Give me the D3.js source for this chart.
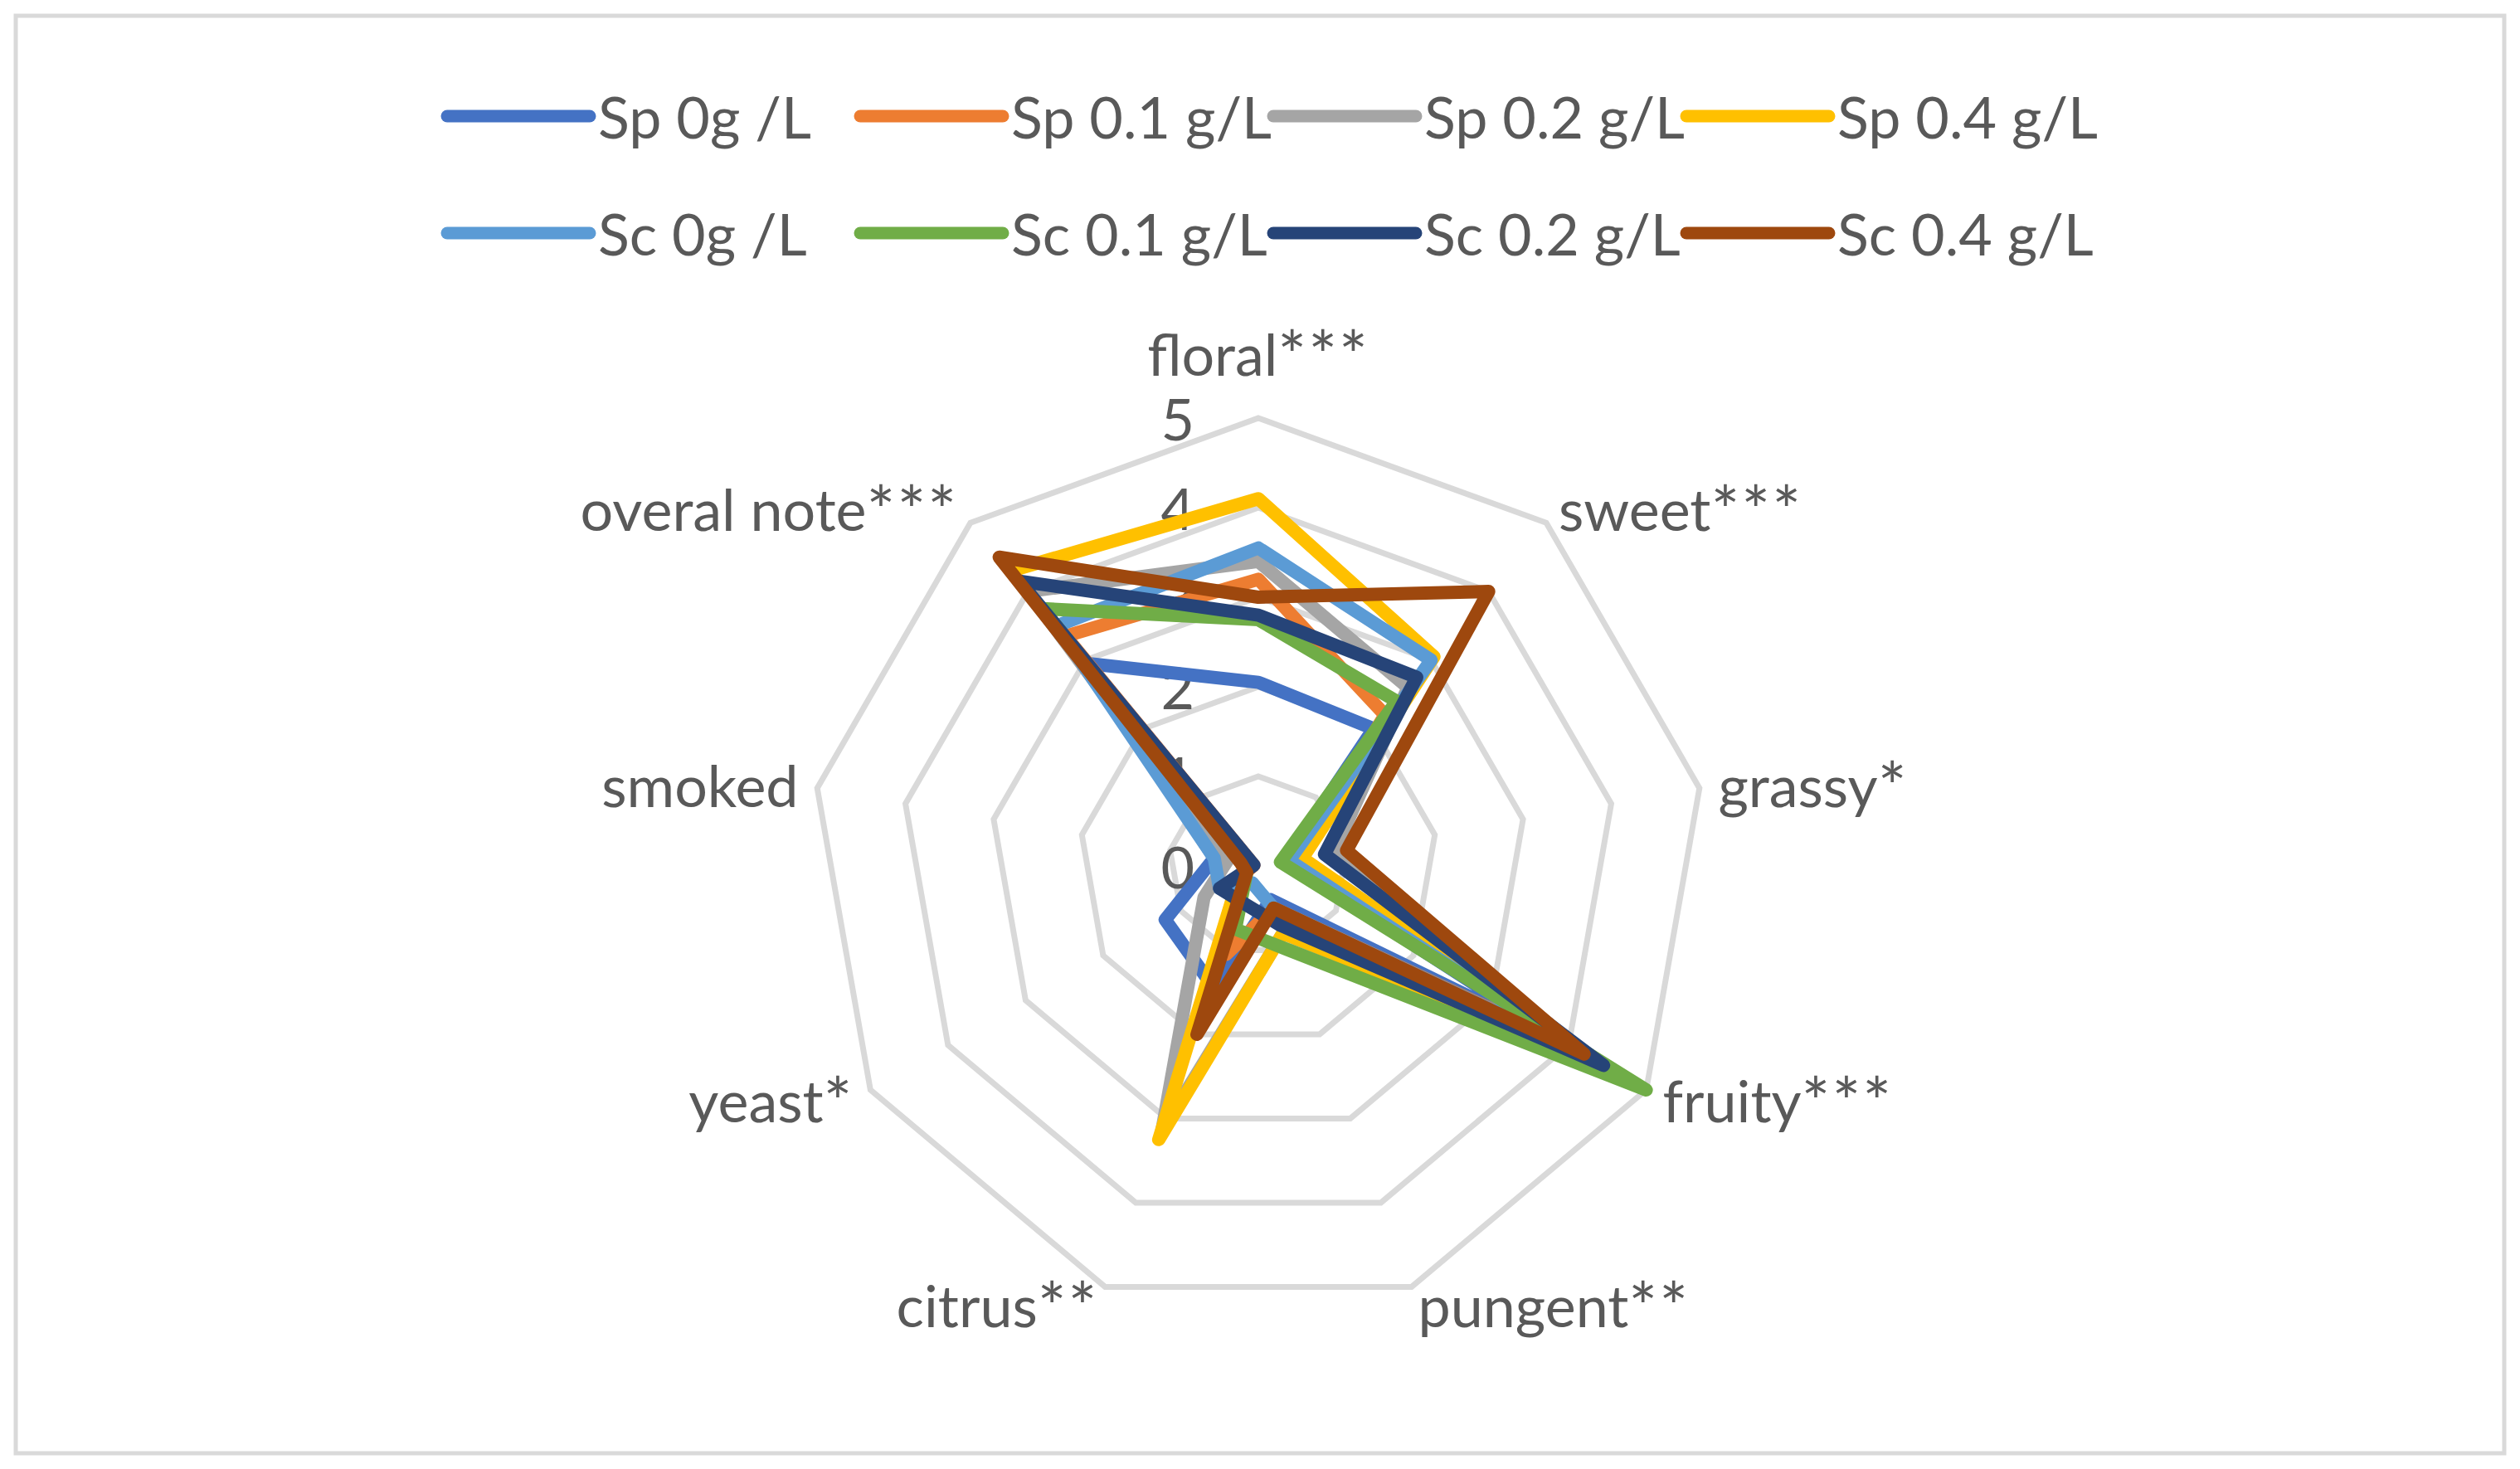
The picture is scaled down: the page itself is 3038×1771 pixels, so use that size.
<!DOCTYPE html>
<html>
<head>
<meta charset="utf-8">
<script src="https://cdn.jsdelivr.net/npm/d3@7"></script>
<style>
  body { margin: 0; background: #fff; }
  text { font-family: Lato, "Open Sans", sans-serif; fill: #595959; }
</style>
</head>
<body>
<svg id="chart" width="3038" height="1771"></svg>
<script>
// attributes, clockwise from the top
const categories = ['floral***', 'sweet***', 'grassy*', 'fruity***', 'pungent**',
  'citrus**', 'yeast*', 'smoked', 'overal note***']
const ticks = [0, 1, 2, 3, 4, 5]

const seriesNames = ['Sp 0g /L', 'Sp 0.1 g/L', 'Sp 0.2 g/L', 'Sp 0.4 g/L',
  'Sc 0g /L', 'Sc 0.1 g/L', 'Sc 0.2 g/L', 'Sc 0.4 g/L']
const colors = ['#4472C4', '#ED7D31', '#A5A5A5', '#FFC000',
  '#5B9BD5', '#70AD47', '#264478', '#9E480E']

const sp0 = [2.05, 2.0, 0.3, 4.0, 0.4, 1.45, 1.2, 0.5, 2.95]
const sp01 = [3.2, 2.2, 0.45, 4.0, 0.5, 1.05, 0.2, 0.05, 3.35]
const sp02 = [3.4, 2.6, 0.85, 4.3, 0.8, 3.15, 0.7, 0.35, 4.0]
const sp04 = [4.1, 3.05, 0.5, 4.2, 0.8, 3.25, 0.25, 0.1, 4.3]
const sc0 = [3.55, 3.0, 0.35, 4.1, 0.5, 0.2, 0.5, 0.5, 3.5]
const sc01 = [2.75, 2.4, 0.25, 5.0, 1.0, 0.75, 0.15, 0.1, 3.75]
const sc02 = [2.8, 2.75, 0.75, 4.45, 0.7, 0.45, 0.5, 0.05, 4.15]
const sc04 = [3.0, 4.0, 1.0, 4.2, 0.5, 2.0, 0.15, 0.2, 4.5]

const series = [sp0, sp01, sp02, sp04, sc0, sc01, sc02, sc04]
  .map((values, i) => ({ name: seriesNames[i], color: colors[i], values }))

const W = 3038, H = 1771
const cx = 1517, cy = 1044
const fontSize = 70

const svg = d3.select('#chart')

// chart area frame
svg.append('rect')
  .attr('x', 19).attr('y', 19)
  .attr('width', W - 38).attr('height', H - 38)
  .attr('fill', '#fff')
  .attr('stroke', '#d9d9d9')
  .attr('stroke-width', 5)

const r = d3.scaleLinear().domain([0, 5]).range([0, 540])
const angle = d3.scaleLinear().domain([0, categories.length]).range([0, 2 * Math.PI])

const g = svg.append('g').attr('transform', `translate(${cx},${cy})`)

const radial = d3.lineRadial()
  .angle((d, i) => angle(i))
  .radius(d => r(d))
  .curve(d3.curveLinearClosed)

// grid rings
g.selectAll('path.ring')
  .data(ticks.filter(t => t > 0))
  .enter().append('path')
  .attr('class', 'ring')
  .attr('d', t => radial(categories.map(() => t)))
  .attr('fill', 'none')
  .attr('stroke', '#d9d9d9')
  .attr('stroke-width', 7)

// value labels
g.selectAll('text.tick')
  .data(ticks)
  .enter().append('text')
  .attr('class', 'tick')
  .attr('x', -77)
  .attr('y', t => -r(t))
  .attr('text-anchor', 'end')
  .attr('dominant-baseline', 'central')
  .style('font-size', fontSize + 'px')
  .text(t => t)

// category labels
const cat = g.selectAll('text.cat')
  .data(categories)
  .enter().append('text')
  .attr('class', 'cat')
  .each(function (d, i) {
    const a = angle(i)
    const s = Math.sin(a), c = Math.cos(a)
    const rr = r(5) + 23
    let y = -rr * c
    if (c > 0.95) y -= fontSize * 0.78
    d3.select(this)
      .attr('x', rr * s)
      .attr('y', y)
      .attr('text-anchor', s > 0.1 ? 'start' : (s < -0.1 ? 'end' : 'middle'))
  })
  .attr('dominant-baseline', 'central')
  .style('font-size', fontSize + 'px')

cat.append('tspan').text(d => d.replace(/\*+$/, ''))
cat.append('tspan')
  .style('font-size', '82px')
  .style('letter-spacing', '2px')
  .text(d => (d.match(/\*+$/) || [''])[0])

// series lines
g.selectAll('path.series')
  .data(series)
  .enter().append('path')
  .attr('class', 'series')
  .attr('d', d => radial(d.values))
  .attr('fill', 'none')
  .attr('stroke', d => d.color)
  .attr('stroke-width', 16)
  .attr('stroke-linejoin', 'round')
  .attr('stroke-linecap', 'round')

// legend, two rows of four
const legend = svg.append('g')
  .selectAll('g')
  .data(series)
  .enter().append('g')
  .attr('transform', (d, i) => `translate(${539 + (i % 4) * 498},${i < 4 ? 140 : 281})`)

legend.append('line')
  .attr('x1', 0).attr('x2', 172)
  .attr('y1', 0).attr('y2', 0)
  .attr('stroke', d => d.color)
  .attr('stroke-width', 15)
  .attr('stroke-linecap', 'round')

legend.append('text')
  .attr('x', 182)
  .attr('y', 0)
  .attr('dominant-baseline', 'central')
  .style('font-size', fontSize + 'px')
  .text(d => d.name)
</script>
</body>
</html>
